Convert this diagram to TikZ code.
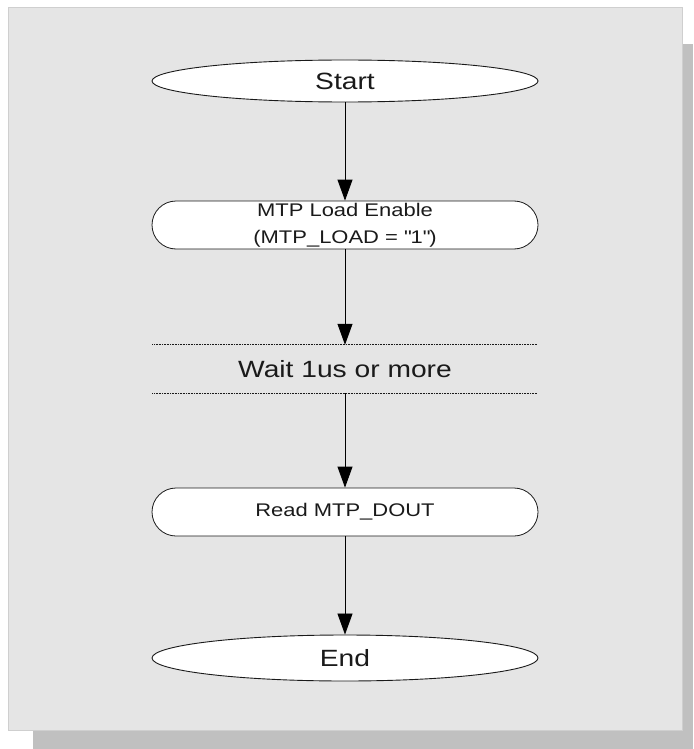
\documentclass[tikz,border=0pt]{standalone}
\usepackage{fontspec}
\setmainfont{Liberation Sans}[FakeStretch=1.2]
\usetikzlibrary{shapes.geometric,arrows.meta}
\definecolor{panelfill}{HTML}{E5E5E5}
\definecolor{panelline}{HTML}{CFCFCF}
\definecolor{shadowfill}{HTML}{C0C0C0}
\definecolor{inkcol}{HTML}{1A1A1A}
\tikzset{
  terminal/.style={ellipse, draw=inkcol, fill=white, line width=0.9pt, inner sep=0pt,
    minimum width=386pt, minimum height=#1, text=inkcol,
    font=\fontsize{23.5}{28}\selectfont},
  process/.style={rectangle, rounded corners=24pt, draw=inkcol, fill=white, line width=0.8pt,
    minimum width=386pt, minimum height=48pt, inner sep=0pt, align=center, text=inkcol,
    font=\fontsize{18.3}{27}\selectfont},
  waitstep/.style={rectangle, minimum width=385pt, minimum height=48pt, inner sep=0pt,
    text=inkcol, font=\fontsize{23.5}{28}\selectfont},
  flow/.style={draw=black, line width=0.8pt, -{Triangle[length=21pt,width=15pt]}},
  rule/.style={draw=inkcol, line width=0.7pt, dash pattern=on 1pt off 0.6pt}
}
\begin{document}
\begin{tikzpicture}[x=1pt,y=-1pt]
  \useasboundingbox (0,0) rectangle (693,749);
  % drop shadow and panel
  \fill[shadowfill] (33,44) rectangle (693,749);
  \filldraw[fill=panelfill, draw=panelline, line width=1pt] (8,8) rectangle (682,730);

  % flow steps
  \node[terminal=42pt] (start) at (345,81) {Start};
  \node[process] (load) at (345,225)
    {MTP Load Enable\\(MTP\_LOAD = \textquotedbl 1\textquotedbl)};
  \node[waitstep] (wait) at (345,369) {Wait 1us or more};
  \node[process] (read) at (345,512) {Read MTP\_DOUT};
  \node[terminal=46pt] (end) at (345,658) {End};

  % bounds of the wait step
  \draw[rule] (wait.north west) -- (wait.north east);
  \draw[rule] (wait.south west) -- (wait.south east);

  % connectors
  \draw[flow] (start) -- (load);
  \draw[flow] (load) -- (wait.north);
  \draw[flow] (wait.south) -- (read);
  \draw[flow] (read) -- (end);
\end{tikzpicture}
\end{document}
